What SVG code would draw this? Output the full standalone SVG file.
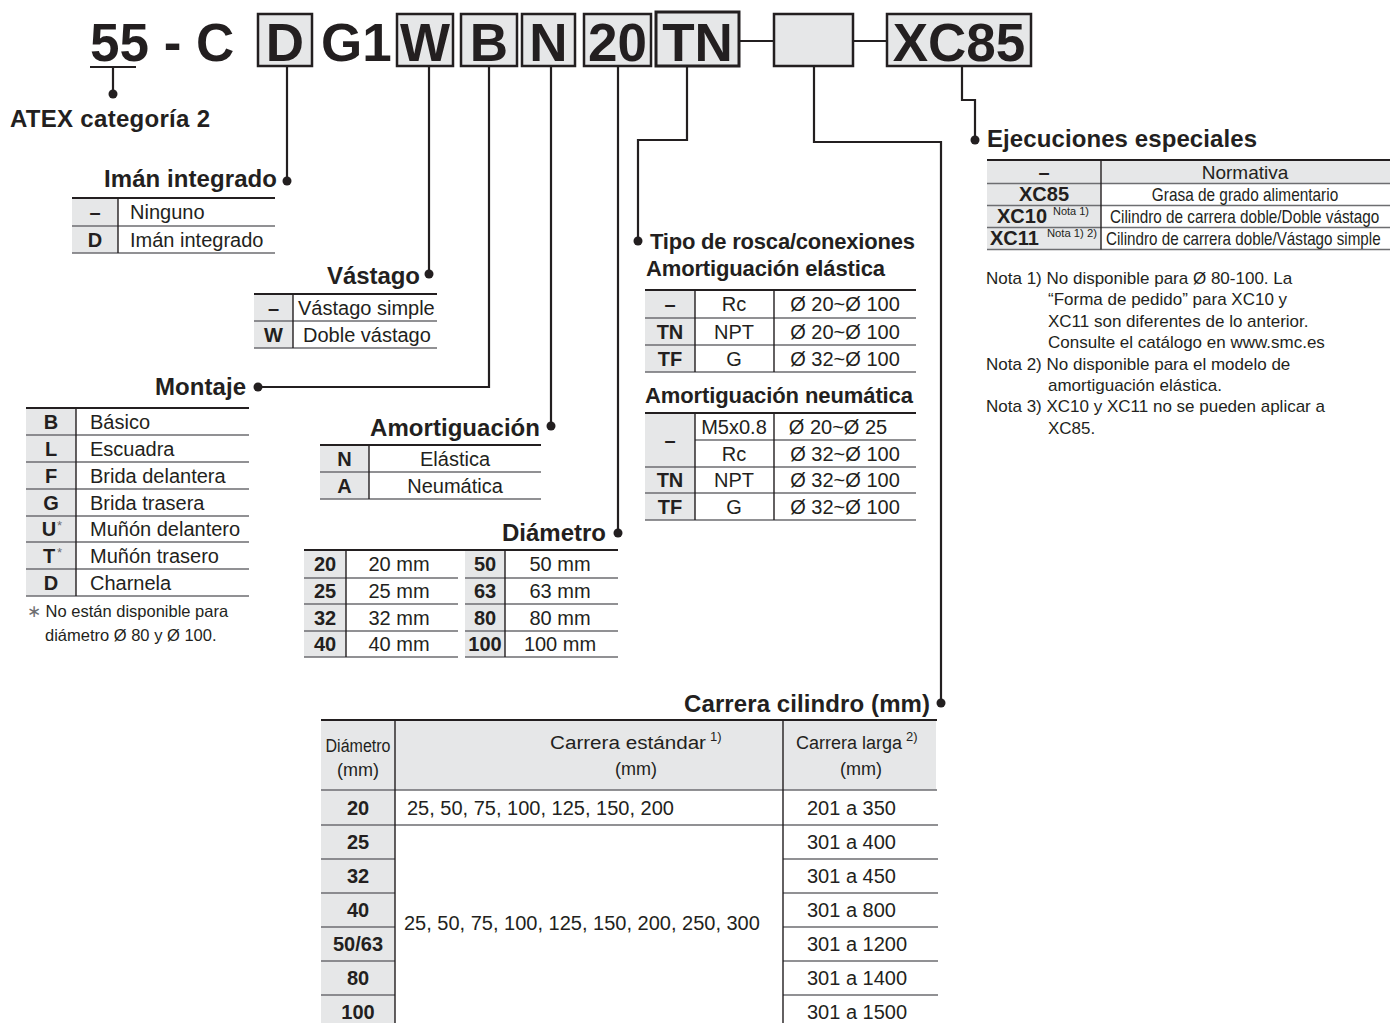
<svg xmlns="http://www.w3.org/2000/svg" width="1392" height="1023" viewBox="0 0 1392 1023">
<defs>
<style>
text{font-family:"Liberation Sans",Arial,Helvetica,sans-serif;fill:#231f20}
.big{font-size:53px;font-weight:bold}
.h{font-size:24px;font-weight:bold}
.h2{font-size:22px;font-weight:bold}
.t{font-size:20px}
.b{font-size:20px;font-weight:bold}
.c{text-anchor:middle}
.n{font-size:17px}
.sm{font-size:16.5px}
.cn{font-size:18px}
.sup{font-size:11px}
.box{fill:#e6e7e8;stroke:#231f20;stroke-width:2.5}
.g{fill:#e6e7e8}
.top{stroke:#231f20;stroke-width:2.2;fill:none}
.sep{stroke:#6d6e71;stroke-width:1.4;fill:none}
.vd{stroke:#231f20;stroke-width:1.4;fill:none}
.ln{stroke:#231f20;stroke-width:2.2;fill:none}
.dot{fill:#231f20}
</style>
</defs>
<rect width="1392" height="1023" fill="#fff"/>

<g id="code">
<rect class="box" x="258" y="14" width="54" height="52"/>
<rect class="box" x="397" y="14" width="56" height="52"/>
<rect class="box" x="461" y="14" width="56" height="52"/>
<rect class="box" x="522" y="14" width="53" height="52"/>
<rect class="box" x="584" y="14" width="67" height="52"/>
<rect class="box" x="656" y="12" width="83" height="54" style="stroke-width:3"/>
<rect class="box" x="774" y="14" width="79" height="52"/>
<rect class="box" x="887" y="14" width="144" height="52"/>
<text class="big" x="90" y="61">55 - C</text>
<text class="big c" x="285" y="61">D</text>
<text class="big" x="321" y="61">G1</text>
<text class="big c" x="425" y="61">W</text>
<text class="big c" x="489" y="61">B</text>
<text class="big c" x="548.5" y="61">N</text>
<text class="big c" x="617.5" y="61">20</text>
<text class="big c" x="697.5" y="61">TN</text>
<text class="big c" x="959" y="61">XC85</text>
</g>

<g id="connectors">
<path class="ln" d="M739 41H774M853 41H887"/>
<path class="ln" d="M90 67H136M113 67V94"/>
<circle class="dot" cx="113" cy="94" r="4.5"/>
<path class="ln" d="M287 66V181"/>
<circle class="dot" cx="287" cy="181" r="4.5"/>
<path class="ln" d="M429 66V274"/>
<circle class="dot" cx="429" cy="274" r="4.5"/>
<path class="ln" d="M489 66V387H258"/>
<circle class="dot" cx="258" cy="387" r="4.5"/>
<path class="ln" d="M551 66V426"/>
<circle class="dot" cx="551" cy="426" r="4.5"/>
<path class="ln" d="M618 66V533"/>
<circle class="dot" cx="618" cy="533" r="4.5"/>
<path class="ln" d="M687 66V140H638V241"/>
<circle class="dot" cx="638" cy="241" r="4.5"/>
<path class="ln" d="M814 66V142H941V703"/>
<circle class="dot" cx="941" cy="703" r="4.5"/>
<path class="ln" d="M962 66V100H975V140"/>
<circle class="dot" cx="975" cy="140" r="4.5"/>
</g>

<g id="atex">
<text class="h" x="10" y="127" textLength="200">ATEX categoría 2</text>
</g>

<g id="iman">
<text class="h" x="104" y="187" textLength="173">Imán integrado</text>
<rect class="g" x="72" y="198" width="46" height="55"/>
<path class="top" d="M72 198H275"/>
<path class="sep" d="M72 226H275M72 253H275"/>
<path class="vd" d="M118 198V253"/>
<text class="b c" x="95" y="219">–</text>
<text class="t" x="130" y="219">Ninguno</text>
<text class="b c" x="95" y="246.5">D</text>
<text class="t" x="130" y="246.5">Imán integrado</text>
</g>

<g id="vastago">
<text class="h" x="327" y="284" textLength="93">Vástago</text>
<rect class="g" x="254" y="294" width="39" height="54"/>
<path class="top" d="M254 294H437"/>
<path class="sep" d="M254 321H437M254 348H437"/>
<path class="vd" d="M293 294V348"/>
<text class="b c" x="273.5" y="314.5">–</text>
<text class="t" x="298" y="314.5">Vástago simple</text>
<text class="b c" x="273.5" y="341.5">W</text>
<text class="t" x="303" y="341.5">Doble vástago</text>
</g>

<g id="montaje">
<text class="h" x="155" y="395" textLength="91">Montaje</text>
<rect class="g" x="26" y="408" width="50" height="188"/>
<path class="top" d="M26 408H249"/>
<path class="sep" d="M26 435H249M26 462H249M26 489H249M26 516H249M26 542H249M26 569H249M26 596H249"/>
<path class="vd" d="M76 408V596"/>
<text class="b c" x="51" y="428.5">B</text>
<text class="t" x="90" y="428.5">Básico</text>
<text class="b c" x="51" y="455.5">L</text>
<text class="t" x="90" y="455.5">Escuadra</text>
<text class="b c" x="51" y="482.5">F</text>
<text class="t" x="90" y="482.5">Brida delantera</text>
<text class="b c" x="51" y="509.5">G</text>
<text class="t" x="90" y="509.5">Brida trasera</text>
<text class="b c" x="49" y="536">U</text><text x="57" y="530" style="font-size:13px;fill:#6d6e71">*</text>
<text class="b c" x="49" y="562.5">T</text><text x="57" y="557" style="font-size:13px;fill:#6d6e71">*</text>
<text class="t" x="90" y="536">Muñón delantero</text>
<text class="t" x="90" y="562.5">Muñón trasero</text>
<text class="b c" x="51" y="589.5">D</text>
<text class="t" x="90" y="589.5">Charnela</text>
<text class="sm" x="27" y="617"><tspan style="fill:#6d6e71">∗</tspan> No están disponible para</text>
<text class="sm" x="45" y="641">diámetro Ø 80 y Ø 100.</text>
</g>

<g id="amortiguacion">
<text class="h" x="370" y="436" textLength="170">Amortiguación</text>
<rect class="g" x="320" y="445" width="49" height="54"/>
<path class="top" d="M320 445H541"/>
<path class="sep" d="M320 472H541M320 499H541"/>
<path class="vd" d="M369 445V499"/>
<text class="b c" x="344.5" y="465.5">N</text>
<text class="t c" x="455" y="465.5">Elástica</text>
<text class="b c" x="344.5" y="492.5">A</text>
<text class="t c" x="455" y="492.5">Neumática</text>
</g>

<g id="diametro">
<text class="h" x="502" y="541" textLength="104">Diámetro</text>
<rect class="g" x="304" y="550" width="42" height="107"/>
<rect class="g" x="465" y="550" width="40" height="107"/>
<path class="top" d="M304 550H618"/>
<path class="sep" d="M304 578H458M304 604H458M304 631H458M304 657H458M465 578H618M465 604H618M465 631H618M465 657H618"/>
<path class="vd" d="M346 550V657M505 550V657"/>
<text class="b c" x="325" y="571">20</text><text class="t c" x="399" y="571">20 mm</text>
<text class="b c" x="325" y="598">25</text><text class="t c" x="399" y="598">25 mm</text>
<text class="b c" x="325" y="624.5">32</text><text class="t c" x="399" y="624.5">32 mm</text>
<text class="b c" x="325" y="651">40</text><text class="t c" x="399" y="651">40 mm</text>
<text class="b c" x="485" y="571">50</text><text class="t c" x="560" y="571">50 mm</text>
<text class="b c" x="485" y="598">63</text><text class="t c" x="560" y="598">63 mm</text>
<text class="b c" x="485" y="624.5">80</text><text class="t c" x="560" y="624.5">80 mm</text>
<text class="b c" x="485" y="651">100</text><text class="t c" x="560" y="651">100 mm</text>
</g>

<g id="rosca">
<text class="h2" x="650" y="249" textLength="265">Tipo de rosca/conexiones</text>
<text class="h2" x="646" y="276" textLength="239">Amortiguación elástica</text>
<rect class="g" x="645" y="290" width="50" height="82"/>
<path class="top" d="M645 290H916"/>
<path class="sep" d="M645 318H916M645 345H916M645 372H916"/>
<path class="vd" d="M695 290V372M774 290V372"/>
<text class="b c" x="670" y="311">–</text><text class="t c" x="734" y="311">Rc</text><text class="t c" x="845" y="311">Ø 20~Ø 100</text>
<text class="b c" x="670" y="338.5">TN</text><text class="t c" x="734" y="338.5">NPT</text><text class="t c" x="845" y="338.5">Ø 20~Ø 100</text>
<text class="b c" x="670" y="365.5">TF</text><text class="t c" x="734" y="365.5">G</text><text class="t c" x="845" y="365.5">Ø 32~Ø 100</text>
<text class="h2" x="645" y="403" textLength="268">Amortiguación neumática</text>
<rect class="g" x="645" y="413" width="50" height="107"/>
<path class="top" d="M645 413H916"/>
<path class="sep" d="M695 440H916M645 467H916M645 493H916M645 520H916"/>
<path class="vd" d="M695 413V520M774 413V520"/>
<text class="b c" x="670" y="447">–</text>
<text class="t c" x="734" y="433.5">M5x0.8</text><text class="t c" x="838" y="433.5">Ø 20~Ø 25</text>
<text class="t c" x="734" y="460.5">Rc</text><text class="t c" x="845" y="460.5">Ø 32~Ø 100</text>
<text class="b c" x="670" y="487">TN</text><text class="t c" x="734" y="487">NPT</text><text class="t c" x="845" y="487">Ø 32~Ø 100</text>
<text class="b c" x="670" y="513.5">TF</text><text class="t c" x="734" y="513.5">G</text><text class="t c" x="845" y="513.5">Ø 32~Ø 100</text>
</g>

<g id="ejecuciones">
<text class="h" x="987" y="147" textLength="270">Ejecuciones especiales</text>
<rect class="g" x="987" y="160" width="403" height="23.5"/>
<rect class="g" x="987" y="183.5" width="114" height="66"/>
<path class="top" d="M987 160H1390"/>
<path class="sep" d="M987 183.5H1390M987 205.5H1390M987 227.5H1390M987 249.5H1390"/>
<path class="vd" d="M1101 160V249.5"/>
<text class="b c" x="1044" y="179">–</text>
<text class="c" x="1245" y="179" style="font-size:19px">Normativa</text>
<text class="b c" x="1044" y="201">XC85</text>
<text class="cn c" transform="translate(1245 201) scale(0.855 1)">Grasa de grado alimentario</text>
<text class="b" x="997" y="223">XC10</text>
<text class="sup" x="1053" y="215" textLength="36" lengthAdjust="spacingAndGlyphs">Nota 1)</text>
<text class="cn" transform="translate(1110 223) scale(0.85 1)">Cilindro de carrera doble/Doble vástago</text>
<text class="b" x="990" y="245">XC11</text>
<text class="sup" x="1047" y="237" textLength="50" lengthAdjust="spacingAndGlyphs">Nota 1) 2)</text>
<text class="cn" transform="translate(1106 245) scale(0.845 1)">Cilindro de carrera doble/Vástago simple</text>
<text class="n" x="986" y="284">Nota 1) No disponible para Ø 80-100. La</text>
<text class="n" x="1048" y="305.4">“Forma de pedido” para XC10 y</text>
<text class="n" x="1048" y="326.8">XC11 son diferentes de lo anterior.</text>
<text class="n" x="1048" y="348.2">Consulte el catálogo en www.smc.es</text>
<text class="n" x="986" y="369.6">Nota 2) No disponible para el modelo de</text>
<text class="n" x="1048" y="391">amortiguación elástica.</text>
<text class="n" x="986" y="412.4">Nota 3) XC10 y XC11 no se pueden aplicar a</text>
<text class="n" x="1048" y="433.8">XC85.</text>
</g>

<g id="carrera">
<text class="h" x="684" y="712" textLength="246">Carrera cilindro (mm)</text>
<rect class="g" x="321" y="721" width="615" height="69"/>
<rect class="g" x="321" y="790" width="74" height="233"/>
<path class="top" d="M321 720H937"/>
<path class="sep" d="M321 790H937M321 825H938M321 859H395M321 893H395M321 927H395M321 961H395M321 995H395M783 859H938M783 893H938M783 927H938M783 961H938M783 995H938"/>
<path class="vd" d="M395 720V1023M783 720V1023"/>
<text class="cn c" x="358" y="752" textLength="65" lengthAdjust="spacingAndGlyphs">Diámetro</text>
<text class="cn c" x="358" y="776">(mm)</text>
<text class="cn" x="550" y="749" textLength="156" lengthAdjust="spacingAndGlyphs">Carrera estándar</text>
<text x="710" y="741" style="font-size:13px">1)</text>
<text class="cn c" x="636" y="775">(mm)</text>
<text class="cn" x="796" y="749" textLength="106" lengthAdjust="spacingAndGlyphs">Carrera larga</text>
<text x="906" y="741" style="font-size:13px">2)</text>
<text class="cn c" x="861" y="775">(mm)</text>
<text class="b c" x="358" y="815">20</text>
<text class="t" x="407" y="815">25, 50, 75, 100, 125, 150, 200</text>
<text class="t" x="807" y="815">201 a 350</text>
<text class="b c" x="358" y="849">25</text><text class="t" x="807" y="849">301 a 400</text>
<text class="b c" x="358" y="883">32</text><text class="t" x="807" y="883">301 a 450</text>
<text class="b c" x="358" y="917">40</text><text class="t" x="807" y="917">301 a 800</text>
<text class="b c" x="358" y="951">50/63</text><text class="t" x="807" y="951">301 a 1200</text>
<text class="b c" x="358" y="985">80</text><text class="t" x="807" y="985">301 a 1400</text>
<text class="b c" x="358" y="1019">100</text><text class="t" x="807" y="1019">301 a 1500</text>
<text class="t" x="404" y="930">25, 50, 75, 100, 125, 150, 200, 250, 300</text>
</g>
</svg>
